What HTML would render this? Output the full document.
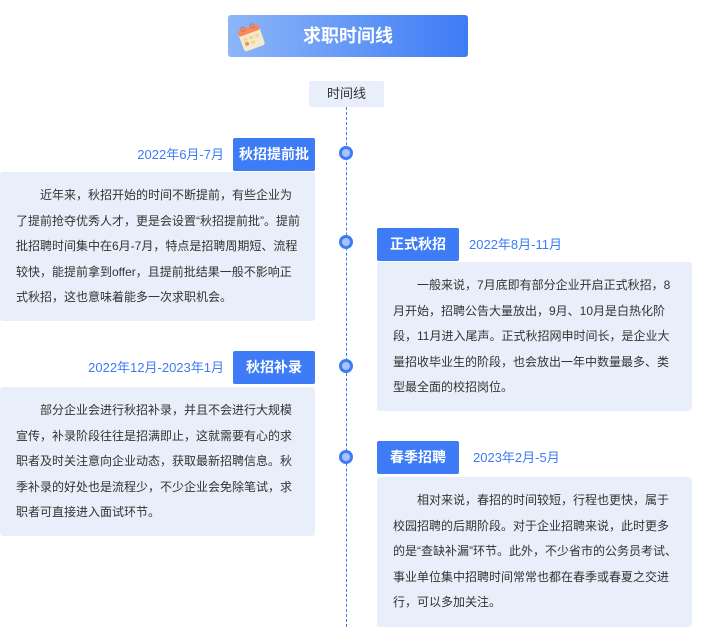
<!DOCTYPE html>
<html><head><meta charset="utf-8"><style>
*{margin:0;padding:0;box-sizing:border-box}
body{width:710px;height:627px;background:#fff;position:relative;overflow:hidden;font-family:"Liberation Sans","Noto Sans CJK SC",sans-serif}
.a{position:absolute}
.title{left:228px;top:15px;width:240px;height:42px;border-radius:3px;background:linear-gradient(90deg,#8db6f7,#3d7cf6);color:#fff;font-weight:bold;font-size:18px;line-height:42px;text-align:center;padding-left:0}
.tl{left:309px;top:81px;width:75px;height:26px;background:#e8effa;border-radius:2px;font-size:13px;line-height:26px;text-align:center;color:#333}
.line{left:345.5px;top:107px;height:520px;border-left:1px dashed #3d7cf6}
.dot{width:14px;height:14px;border-radius:50%;background:#3d7cf6;left:339px}
.dot:after{content:"";position:absolute;left:3px;top:3px;width:8px;height:8px;border-radius:50%;background:#a8c3f5}
.lab{width:82px;height:33px;background:#3d7cf6;color:#fff;font-size:14px;line-height:33px;text-align:center;border-radius:2px;font-weight:bold}
.date{color:#3d7cf6;font-size:13px;line-height:33px;white-space:nowrap}
.box{background:#e8effa;border-radius:3px;width:315px;height:149px;font-size:12px;line-height:25.5px;color:#333;padding:11px 0 0 16px;white-space:nowrap}
</style></head><body>
<div class="a title"><svg class="a" style="left:6px;top:6px" width="34" height="32" viewBox="0 0 34 32"><g transform="rotate(-20 17 16)"><rect x="6" y="6" width="22" height="22" rx="3" fill="#f4ead0"/><rect x="6" y="6" width="22" height="6" rx="2" fill="#f58a5a"/><circle cx="12" cy="6" r="2" fill="none" stroke="#e86a3a"/><circle cx="22" cy="6" r="2" fill="none" stroke="#e86a3a"/><rect x="9" y="15" width="4" height="3" fill="#f2d98a"/><rect x="15" y="15" width="4" height="3" fill="#f2d98a"/><rect x="21" y="15" width="4" height="3" fill="#f2d98a"/><rect x="15" y="20" width="4" height="3" fill="#f2d98a"/><circle cx="11" cy="21" r="2" fill="#f58a5a"/></g></svg>求职时间线</div>
<div class="a tl">时间线</div>
<div class="a line"></div>
<div class="a dot" style="top:146px"></div>
<div class="a dot" style="top:235px"></div>
<div class="a dot" style="top:359px"></div>
<div class="a dot" style="top:450px"></div>

<div class="a date" style="right:486px;top:138px">2022年6月-7月</div>
<div class="a lab" style="left:233px;top:138px">秋招提前批</div>
<div class="a box" style="left:0;top:172px">　　近年来，秋招开始的时间不断提前，有些企业为<br>了提前抢夺优秀人才，更是会设置“秋招提前批”。提前<br>批招聘时间集中在6月-7月，特点是招聘周期短、流程<br>较快，能提前拿到offer，且提前批结果一般不影响正<br>式秋招，这也意味着能多一次求职机会。</div>

<div class="a lab" style="left:377px;top:228px">正式秋招</div>
<div class="a date" style="left:469px;top:228px">2022年8月-11月</div>
<div class="a box" style="left:377px;top:262px">　　一般来说，7月底即有部分企业开启正式秋招，8<br>月开始，招聘公告大量放出，9月、10月是白热化阶<br>段，11月进入尾声。正式秋招网申时间长，是企业大<br>量招收毕业生的阶段，也会放出一年中数量最多、类<br>型最全面的校招岗位。</div>

<div class="a date" style="right:486px;top:351px">2022年12月-2023年1月</div>
<div class="a lab" style="left:233px;top:351px">秋招补录</div>
<div class="a box" style="left:0;top:387px">　　部分企业会进行秋招补录，并且不会进行大规模<br>宣传，补录阶段往往是招满即止，这就需要有心的求<br>职者及时关注意向企业动态，获取最新招聘信息。秋<br>季补录的好处也是流程少，不少企业会免除笔试，求<br>职者可直接进入面试环节。</div>

<div class="a lab" style="left:377px;top:441px">春季招聘</div>
<div class="a date" style="left:473px;top:441px">2023年2月-5月</div>
<div class="a box" style="left:377px;top:477px;height:150px">　　相对来说，春招的时间较短，行程也更快，属于<br>校园招聘的后期阶段。对于企业招聘来说，此时更多<br>的是“查缺补漏”环节。此外，不少省市的公务员考试、<br>事业单位集中招聘时间常常也都在春季或春夏之交进<br>行，可以多加关注。</div>
</body></html>
